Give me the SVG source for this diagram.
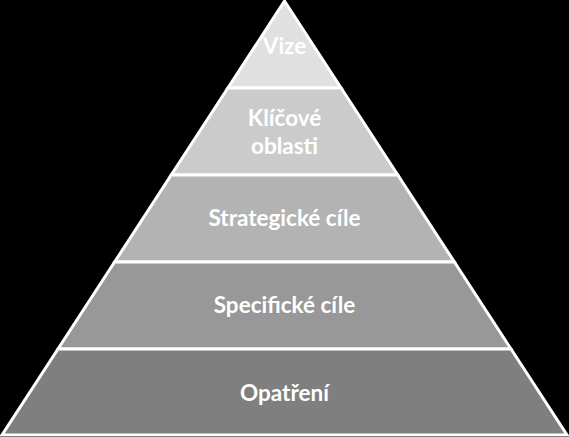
<svg xmlns="http://www.w3.org/2000/svg" width="569" height="437" viewBox="0 0 569 437">
<style>
.layer{stroke:#ffffff;stroke-width:3;stroke-linejoin:miter}
.lbl{font-family:Lato,"Open Sans","Liberation Sans",sans-serif;font-weight:bold;font-size:22.5px;fill:#ffffff;text-anchor:middle}
</style>
<rect x="0" y="0" width="569" height="437" fill="#000000"/>
<g id="vize">
<polygon class="layer" fill="#e0e0e0" points="284.5,1 341.1,88 227.9,88"/>
<text class="lbl" x="284.5" y="54">Vize</text>
</g>
<g id="klicove-oblasti">
<polygon class="layer" fill="#cbcbcb" points="227.9,88 341.1,88 397.8,175 171.2,175"/>
<text class="lbl" x="284.5" y="126">Klíčové</text>
<text class="lbl" x="284.5" y="154">oblasti</text>
</g>
<g id="strategicke-cile">
<polygon class="layer" fill="#b3b3b3" points="171.2,175 397.8,175 454.4,262 114.6,262"/>
<text class="lbl" x="284.5" y="226">Strategické cíle</text>
</g>
<g id="specificke-cile">
<polygon class="layer" fill="#989898" points="114.6,262 454.4,262 511,349 58,349"/>
<text class="lbl" x="284.5" y="313">Specifické cíle</text>
</g>
<g id="opatreni">
<polygon class="layer" fill="#7f7f7f" points="58,349 511,349 567,435 2,435"/>
<text class="lbl" x="284.5" y="401">Opatření</text>
</g>
<g id="connectors"></g>
</svg>
